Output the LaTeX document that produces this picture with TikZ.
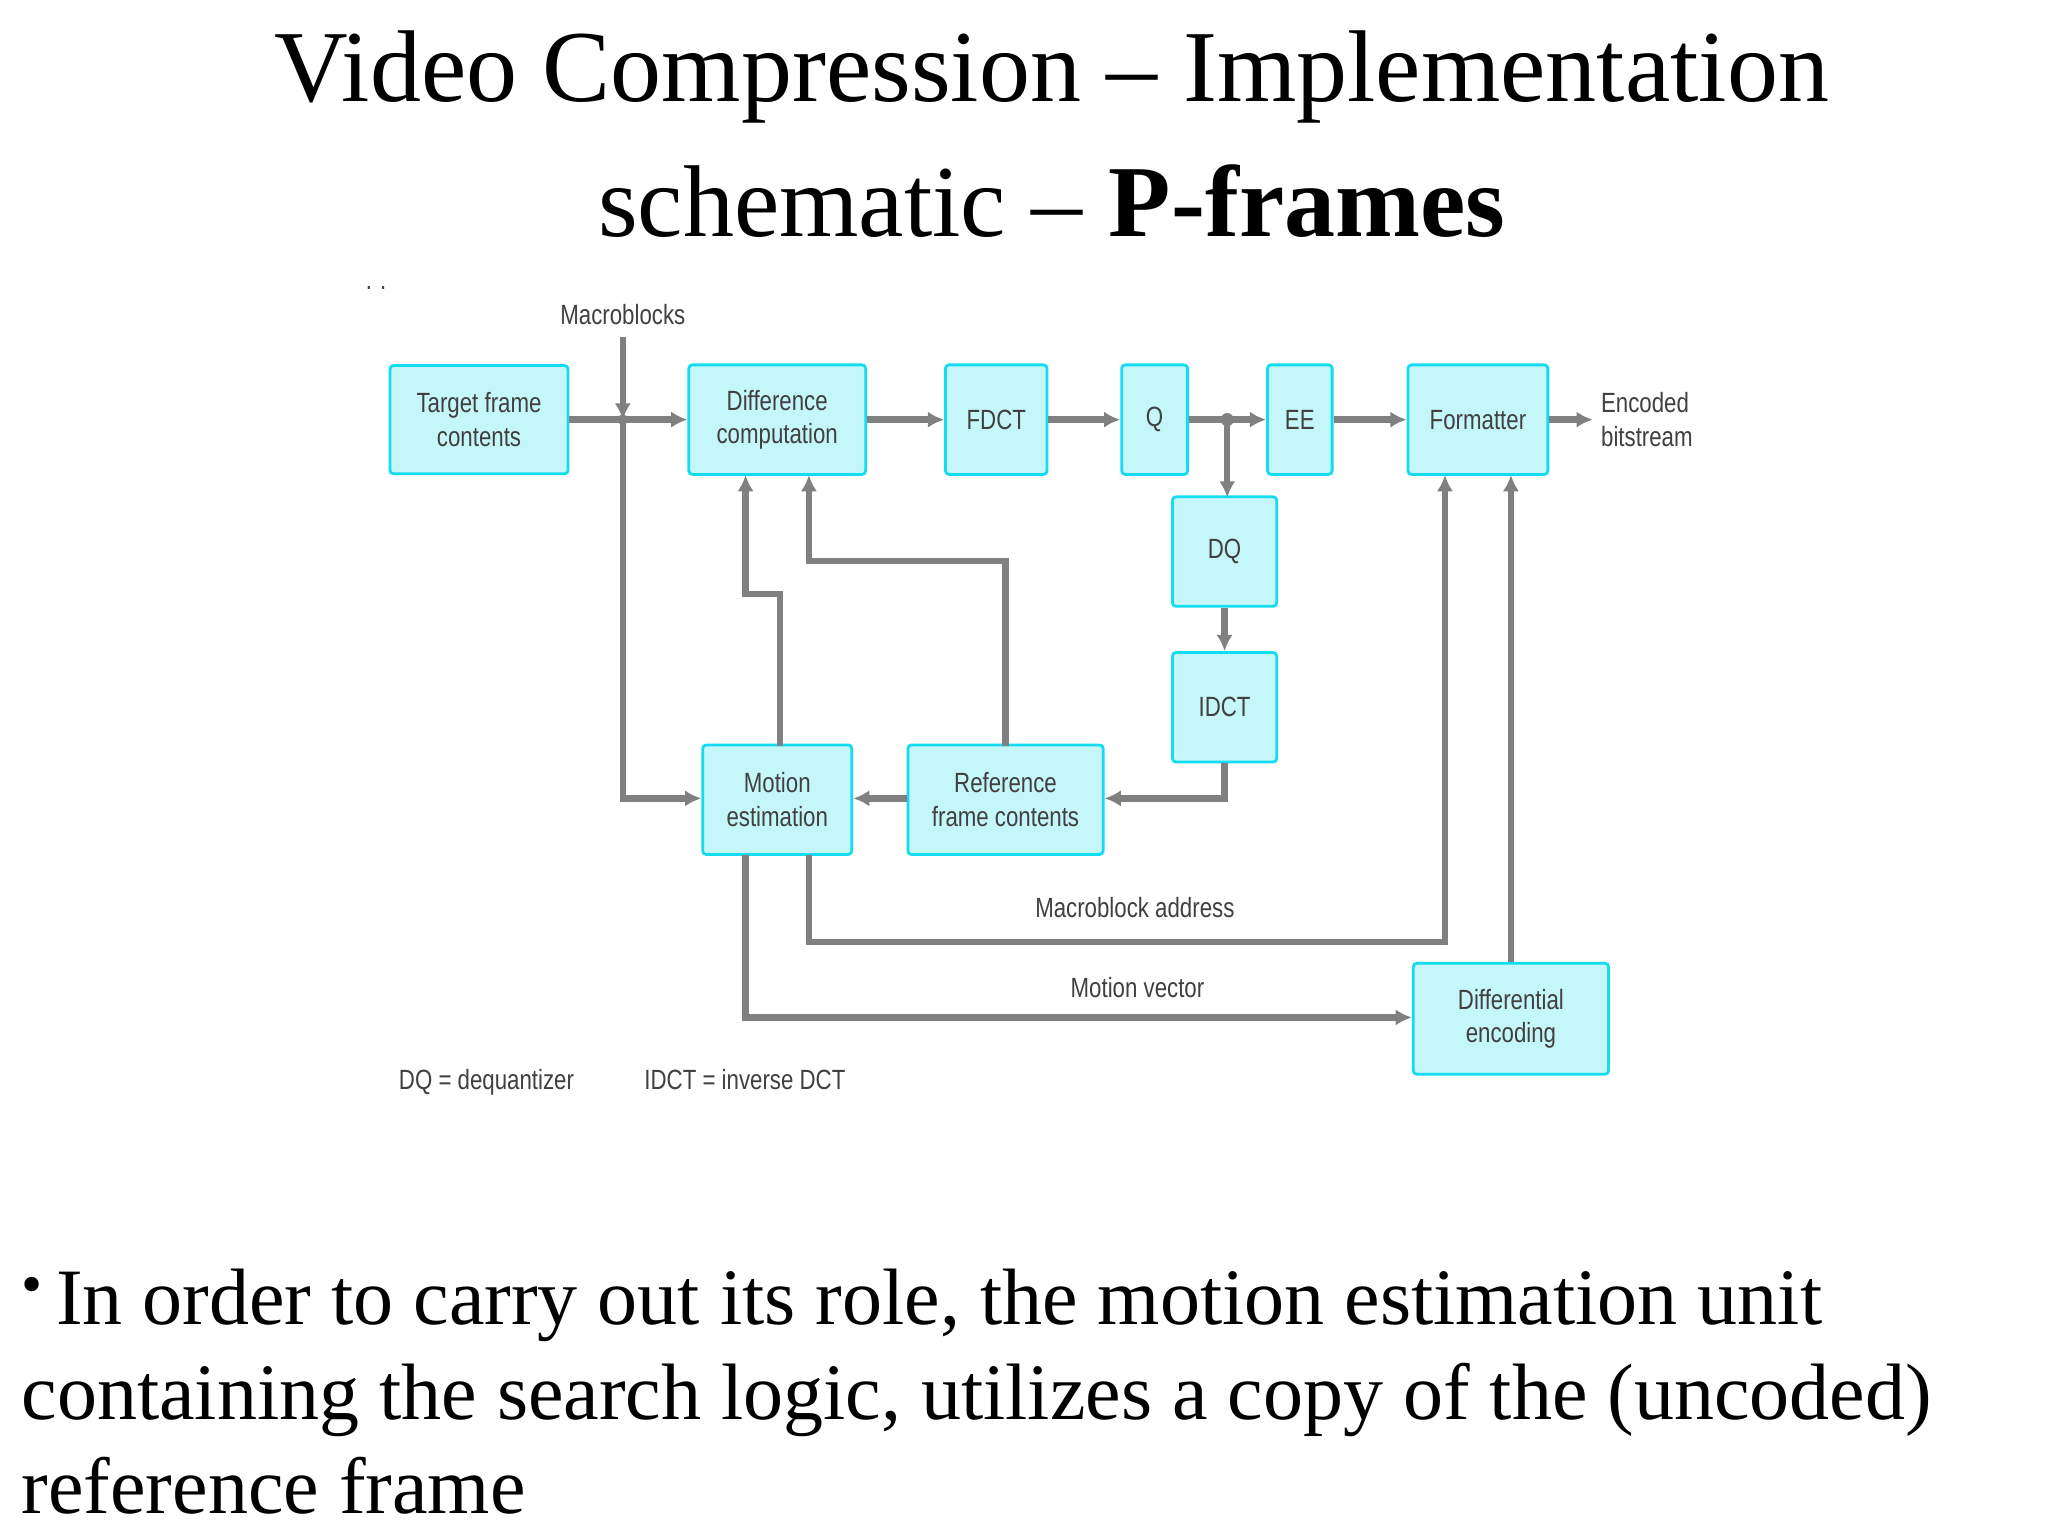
\documentclass[tikz,border=0pt]{standalone}
\usepackage{fontspec}
\setmainfont{Liberation Serif}
\newfontfamily\diag[FakeStretch=0.8]{Liberation Sans}
\usetikzlibrary{arrows.meta}
\definecolor{boxfill}{RGB}{196,246,250}
\definecolor{boxline}{RGB}{20,220,240}
\definecolor{wire}{RGB}{128,128,128}
\tikzset{
  blk/.style={draw=boxline,fill=boxfill,line width=1.2pt,rounded corners=1.5pt,font=\diag\fontsize{12}{14.5}\selectfont,align=center,inner sep=0pt,text=black!75},
  wl/.style={draw=wire,line width=2.8pt},
  wa/.style={wl,-{Latex[length=7pt,width=7pt]}},
  lbl/.style={font=\diag\fontsize{12}{14.5}\selectfont,text=black!75,inner sep=0pt}
}
\begin{document}
\begin{tikzpicture}[x=0.02cm,y=-0.02cm]
\useasboundingbox[fill=white] (0,0) rectangle (1552,1164);
% title
\node (t1) at (797,58) {\fontsize{44}{50}\selectfont Video Compression -- Implementation};
\node (t2) at (797,152) {\fontsize{44}{50}\selectfont schematic -- \textbf{P-frames}};
% boxes
\node[blk,minimum width=2.7cm,minimum height=1.64cm] (tf) at (363,318) {Target frame\\contents};
\node[blk,minimum width=2.68cm,minimum height=1.66cm] (dc) at (589,318) {Difference\\computation};
\node[blk,minimum width=1.54cm,minimum height=1.66cm] (fd) at (755,318) {FDCT};
\node[blk,minimum width=1.0cm,minimum height=1.66cm] (q) at (875,318) {Q};
\node[blk,minimum width=0.98cm,minimum height=1.66cm] (ee) at (985,318) {EE};
\node[blk,minimum width=2.12cm,minimum height=1.66cm] (fm) at (1120,318) {Formatter};
\node[blk,minimum width=1.58cm,minimum height=1.66cm] (dq) at (928,418) {DQ};
\node[blk,minimum width=1.58cm,minimum height=1.66cm] (id) at (928,536) {IDCT};
\node[blk,minimum width=2.26cm,minimum height=1.66cm] (me) at (589,606) {Motion\\estimation};
\node[blk,minimum width=2.96cm,minimum height=1.66cm] (rf) at (762,606) {Reference\\frame contents};
\node[blk,minimum width=2.96cm,minimum height=1.68cm] (de) at (1145,772) {Differential\\encoding};
% labels
\node[lbl] (mb) at (472,238) {Macroblocks};
\node[lbl,align=left,anchor=west] (eb) at (1213,318) {Encoded\\bitstream};
\node[lbl] (ma) at (860,688) {Macroblock address};
\node[lbl] (mv) at (862,748) {Motion vector};
\node[lbl,anchor=base west] (lg1) at (302,826) {DQ = dequantizer};
\node[lbl,anchor=base west] (lg2) at (488,826) {IDCT = inverse DCT};
\node[lbl] (dots) at (285,218) {. .};
% connectors
\coordinate (j1) at (472,318);
\coordinate (mbt) at (472,255);
\draw[wa] (mbt) -- (j1);
\draw[wa] (tf.east) -- (dc.west);
\draw[wa] (j1) -- (472,605) -- (me.west |- 0,605);
\draw[wa] (dc) -- (fd);
\draw[wa] (fd) -- (q);
\draw[wa] (q) -- (ee);
\coordinate (j2) at (930,318);
\draw[wa] (j2) -- (930,377);
\fill[wire] (j2) circle (5);
\fill[wire] (j1) circle (4);
\draw[wa] (ee) -- (fm);
\coordinate (ebt) at (1207,318);
\draw[wa] (fm.east) -- (ebt);
\draw[wa] (dq) -- (id);
\draw[wa] (id.south) -- (928,605) -- (rf.east |- 0,605);
\draw[wa] (rf.west |- 0,605) -- (me.east |- 0,605);
\draw[wa] (591,565) -- (591,450) -- (565,450) -- (565,360);
\draw[wa] (762,565) -- (762,425) -- (613,425) -- (613,360);
\draw[wa] (613,648) -- (613,714) -- (1095,714) -- (1095,360);
\draw[wa] (565,648) -- (565,771) -- (de.west |- 0,771);
\draw[wa] (de.north) -- (1145,360);
% bullet text
\node[anchor=base west,inner sep=0pt] (b1) at (16,1004) {\fontsize{34.5}{38}\selectfont\raisebox{0.25em}{\fontsize{26}{26}\selectfont\textbullet}\,In order to carry out its role, the motion estimation unit};
\node[anchor=base west,inner sep=0pt] (b2) at (16,1076) {\fontsize{34.5}{38}\selectfont containing the search logic, utilizes a copy of the (uncoded)};
\node[anchor=base west,inner sep=0pt] (b3) at (16,1147) {\fontsize{34.5}{38}\selectfont reference frame};
\end{tikzpicture}
\end{document}
